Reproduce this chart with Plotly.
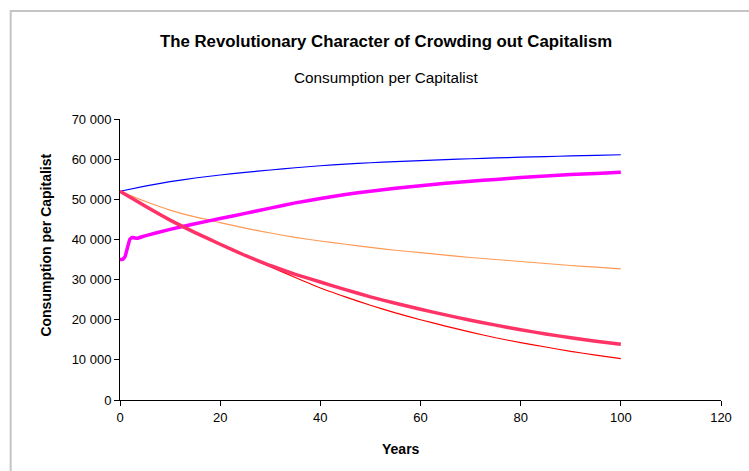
import plotly.graph_objects as go

# Years on the horizontal axis
years = [0, 5, 10, 15, 20, 25, 30, 35, 40, 45, 50,
         55, 60, 65, 70, 75, 80, 85, 90, 95, 100]

# Consumption per capitalist, one series per scenario
blue_series = [52000, 53300, 54400, 55300, 56050, 56700, 57300, 57850, 58350, 58750, 59100,
               59400, 59650, 59900, 60100, 60300, 60500, 60650, 60800, 60950, 61100]
orange_series = [52000, 49500, 47300, 45600, 44200, 42800, 41600, 40500, 39600, 38800, 38000,
                 37300, 36700, 36100, 35500, 35000, 34500, 34000, 33500, 33100, 32650]
thin_red_series = [52000, 48300, 44800, 41700, 38800, 36000, 33200, 30500, 27900, 25700, 23600,
                   21700, 20000, 18400, 16900, 15500, 14300, 13200, 12100, 11200, 10300]
thick_red_series = [52000, 48300, 44800, 41700, 38800, 36000, 33500, 31300, 29400, 27500, 25700,
                    24100, 22600, 21200, 19850, 18650, 17500, 16450, 15500, 14650, 13870]

# The magenta series has a short adjustment at the start
magenta_years = [0, 0.5, 1, 1.5, 2, 2.5, 3, 3.5, 5, 10, 15, 20, 25, 30, 35, 40, 45, 50,
                 55, 60, 65, 70, 75, 80, 85, 90, 95, 100]
magenta_series = [35000, 35050, 35700, 38000, 40100, 40500, 40350, 40300, 40900, 42500, 43900,
                  45200, 46500, 47800, 49100, 50200, 51200, 52000, 52750, 53400, 54000, 54500,
                  54950, 55400, 55800, 56150, 56450, 56750]

x_ticks = [0, 20, 40, 60, 80, 100, 120]
y_ticks = [0, 10000, 20000, 30000, 40000, 50000, 60000, 70000]

FONT = "Liberation Sans, Arial, sans-serif"

fig = go.Figure()

def add_line(x, y, color, width):
    fig.add_trace(go.Scatter(
        x=x, y=y, mode="lines",
        line=dict(color=color, width=width, shape="spline", smoothing=0.4),
        hoverinfo="skip", showlegend=False,
    ))

add_line(years, blue_series, "#0000ff", 1.2)
add_line(years, orange_series, "#ff9955", 1.2)
add_line(years, thin_red_series, "#ff0000", 1.2)
add_line(magenta_years, magenta_series, "#ff00ff", 3.5)
add_line(years, thick_red_series, "#ff3366", 3.5)

# plot area geometry in pixels (used to place titles and the frame)
L, R, T, B = 119.5, 721.5, 119, 400
W, H = 749, 471


def px_x(px):
    return (px - L) / (R - L)


def px_y(py):
    return (B - py) / (B - T)


def label(text, cx, cy, size, angle=0):
    return dict(text=text, x=px_x(cx), y=px_y(cy), xref="paper", yref="paper",
                xanchor="center", yanchor="middle", textangle=angle,
                showarrow=False, font=dict(size=size, color="black", family=FONT))


annotations = [
    label("<b>The Revolutionary Character of Crowding out Capitalism</b>", 386, 41, 16.8),
    label("Consumption per Capitalist", 386, 77, 15.3),
    label("<b>Years</b>", 401, 449, 14),
    label("<b>Consumption per Capitalist</b>", 45, 245, 14, angle=-90),
]

fig.update_layout(
    width=W, height=H,
    margin=dict(l=L, r=W - R, t=T, b=H - B, pad=0),
    paper_bgcolor="white", plot_bgcolor="white",
    separators=". ",
    font=dict(family=FONT, size=13, color="black"),
    annotations=annotations,
    shapes=[dict(type="rect", xref="paper", yref="paper",
                 x0=px_x(10), y0=px_y(490), x1=px_x(770), y1=px_y(11),
                 line=dict(color="#c4c4c4", width=2), layer="below")],
)

fig.update_xaxes(
    range=[0, 120], tickvals=x_ticks, showgrid=False, zeroline=False,
    showline=True, linecolor="black", linewidth=1,
    ticks="outside", ticklen=5, tickcolor="black",
    tickfont=dict(size=13, family=FONT, color="black"),
)
fig.update_yaxes(
    range=[0, 70000], tickvals=y_ticks, tickformat=",d", ticksuffix="\u00a0",
    showgrid=False, zeroline=False,
    showline=True, linecolor="black", linewidth=1,
    ticks="outside", ticklen=5, tickcolor="black",
    tickfont=dict(size=13, family=FONT, color="black"),
)

fig.write_html("out.html", config={"displayModeBar": False})
